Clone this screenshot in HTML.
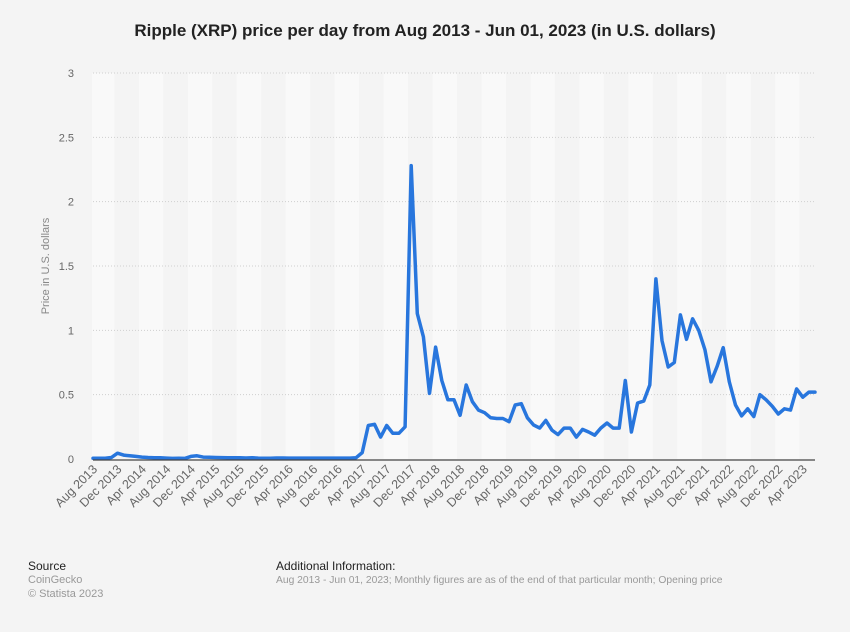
<!DOCTYPE html>
<html><head><meta charset="utf-8">
<style>
body{margin:0;background:#f4f4f4;font-family:"Liberation Sans",Arial,sans-serif;}
#wrap{position:relative;width:850px;height:632px;overflow:hidden;background:#f4f4f4;}
svg text{font-family:"Liberation Sans",Arial,sans-serif;}
</style></head>
<body>
<div id="wrap">
<svg id="chart" width="850" height="632">
<text x="425" y="36" text-anchor="middle" font-size="17" font-weight="bold" fill="#222">Ripple (XRP) price per day from Aug 2013 - Jun 01, 2023 (in U.S. dollars)</text>
<g id="bands"></g>
<g id="grid"></g>
<g id="xlabels"></g>
<text transform="translate(49,266) rotate(-90)" text-anchor="middle" font-size="11" fill="#888">Price in U.S. dollars</text>
<text x="28" y="570" font-size="12" fill="#222">Source</text>
<text x="28" y="583" font-size="11" fill="#999">CoinGecko</text>
<text x="28" y="597" font-size="11" fill="#999">© Statista 2023</text>
<text x="276" y="570" font-size="12" fill="#222">Additional Information:</text>
<text x="276" y="583" font-size="10.3" fill="#999">Aug 2013 - Jun 01, 2023; Monthly figures are as of the end of that particular month; Opening price</text>
</svg>
</div>
<script>
const yTicks=[0,0.5,1,1.5,2,2.5,3];
const yTickLabels=["0","0.5","1","1.5","2","2.5","3"];
const xLabels=["Aug 2013","Dec 2013","Apr 2014","Aug 2014","Dec 2014","Apr 2015","Aug 2015","Dec 2015","Apr 2016","Aug 2016","Dec 2016","Apr 2017","Aug 2017","Dec 2017","Apr 2018","Aug 2018","Dec 2018","Apr 2019","Aug 2019","Dec 2019","Apr 2020","Aug 2020","Dec 2020","Apr 2021","Aug 2021","Dec 2021","Apr 2022","Aug 2022","Dec 2022","Apr 2023"];
const prices=[0.006,0.006,0.006,0.012,0.045,0.03,0.025,0.02,0.015,0.012,0.01,0.01,0.007,0.005,0.006,0.005,0.02,0.025,0.015,0.013,0.012,0.011,0.01,0.01,0.009,0.008,0.01,0.007,0.006,0.006,0.008,0.008,0.007,0.007,0.007,0.007,0.007,0.007,0.007,0.007,0.007,0.007,0.007,0.01,0.05,0.26,0.27,0.17,0.26,0.2,0.2,0.25,2.28,1.13,0.95,0.51,0.87,0.61,0.46,0.46,0.34,0.575,0.445,0.38,0.36,0.32,0.315,0.315,0.29,0.42,0.43,0.32,0.265,0.24,0.3,0.225,0.19,0.24,0.24,0.17,0.23,0.21,0.185,0.24,0.28,0.24,0.24,0.61,0.21,0.435,0.45,0.575,1.4,0.92,0.715,0.75,1.12,0.93,1.09,1.0,0.85,0.6,0.72,0.865,0.6,0.42,0.335,0.39,0.33,0.5,0.46,0.41,0.35,0.39,0.38,0.545,0.48,0.52,0.52];
const NS="http://www.w3.org/2000/svg";
const svg=document.getElementById('chart');
const X0=93,X1=815,Y0=459,Ymax=3,Ytop=73;
function xs(i){return X0+i*(X1-X0)/(prices.length-1);}
function ys(v){return Y0-v*(Y0-Ytop)/Ymax;}
function mk(tag,attrs,parent){const e=document.createElementNS(NS,tag);for(const k in attrs)e.setAttribute(k,attrs[k]);(parent||svg).appendChild(e);return e;}
const step=(X1-X0)/(prices.length-1);
const bands=document.getElementById('bands');
for(let b=0;b*4<prices.length;b++){
  const xa=xs(b*4)-step/2, xb=Math.min(xs(b*4+4)-step/2,X1+step/2);
  const r=mk('rect',{x:Math.max(xa,X0-1),y:Ytop,width:xb-Math.max(xa,X0-1),height:Y0-Ytop,fill:b%2===0?'#f9f9f9':'#f4f4f4'},bands);
  
  
}
const grid=document.getElementById('grid');
yTicks.forEach((v,i)=>{
  if(v>0){const l=mk('line',{x1:X0,x2:X1,y1:ys(v),y2:ys(v),stroke:'#cfcfcf','stroke-dasharray':'1,2','stroke-width':1},grid);
  
  }
  const t=mk('text',{x:74,y:ys(v)+4,'text-anchor':'end','font-size':11,fill:'#666'},grid);
  t.textContent=yTickLabels[i];
  
  
});
const xl=document.getElementById('xlabels');
xLabels.forEach((s,i)=>{
  const x=xs(i*4)+5,y=470;
  const t=mk('text',{x:x,y:y,'text-anchor':'end','font-size':12.5,fill:'#666',transform:`rotate(-45 ${x} ${y})`},xl);
  t.textContent=s;
  
  
});
const d=prices.map((v,i)=>(i?'L':'M')+xs(i).toFixed(1)+','+ys(v).toFixed(1)).join('');
const line=mk('path',{d:d,fill:'none',stroke:'#2876dd','stroke-width':3.5,'stroke-linejoin':'round','stroke-linecap':'round'});


const ax=mk('line',{x1:X0,x2:X1,y1:Y0+1,y2:Y0+1,stroke:'#444','stroke-width':1.3});


</script>
</body></html>
